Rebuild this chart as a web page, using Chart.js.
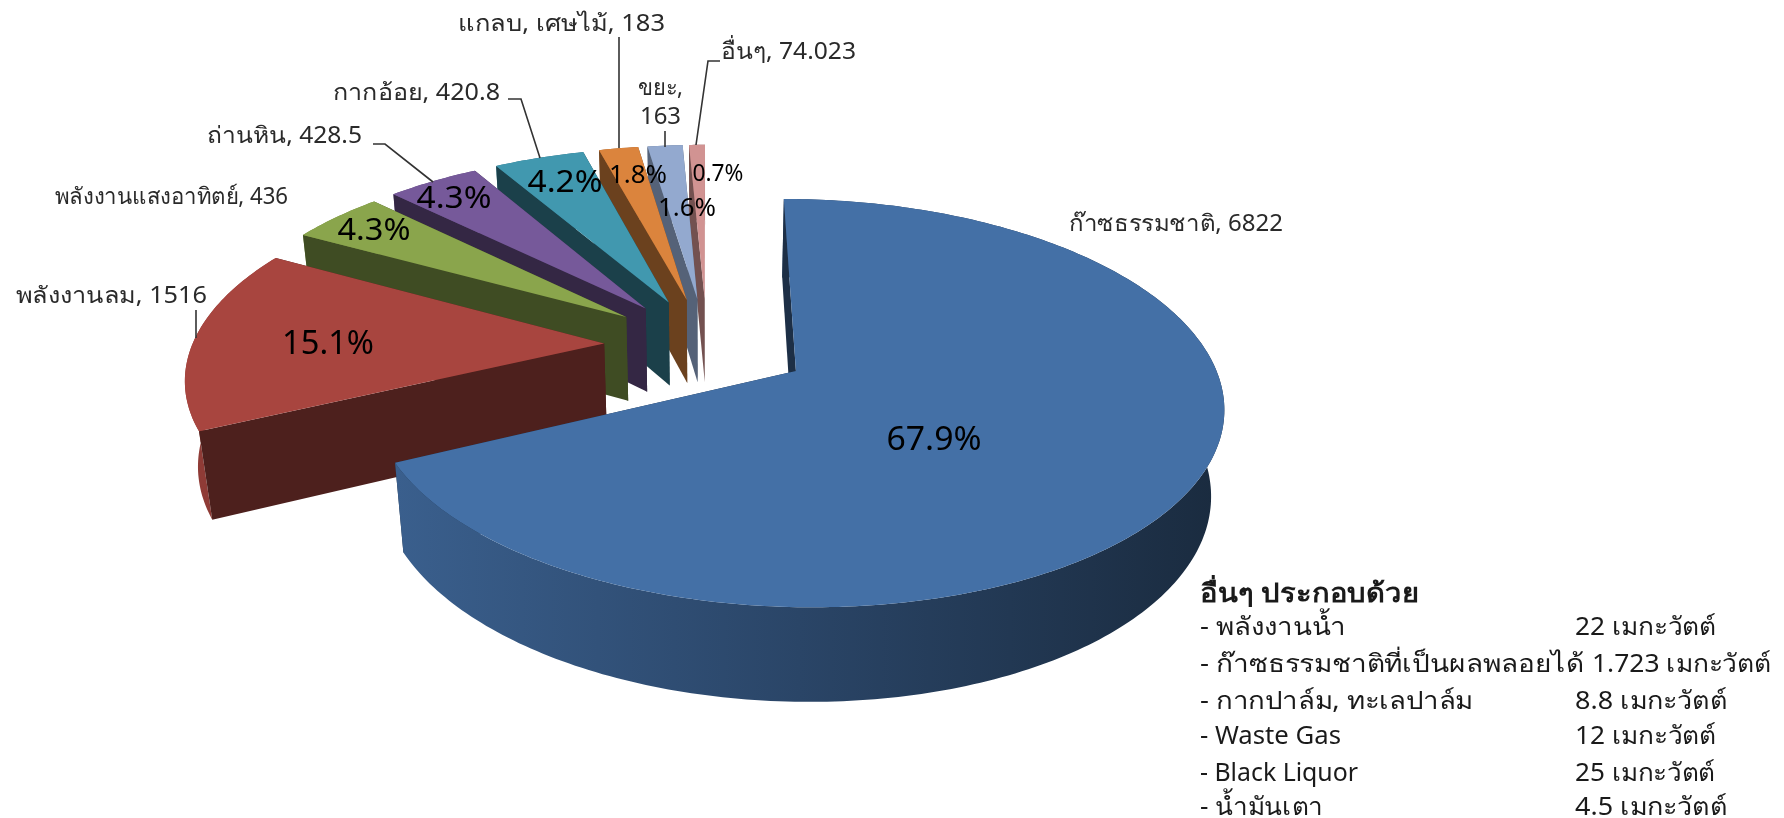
<!DOCTYPE html>
<html>
<head>
<meta charset="utf-8">
<style>html,body{margin:0;padding:0;background:#fff}canvas{display:block;filter:blur(0.45px)}</style>
<script src="https://cdn.jsdelivr.net/npm/chart.js@4"></script>
</head>
<body>
<canvas id="c" width="1784" height="818"></canvas>
<script>
const categories = ['ก๊าซธรรมชาติ','พลังงานลม','พลังงานแสงอาทิตย์','ถ่านหิน','กากอ้อย','แกลบ, เศษไม้','ขยะ','อื่นๆ'];
const values = [6822,1516,436,428.5,420.8,183,163,74.023];
const percentLabels = ['67.9%','15.1%','4.3%','4.3%','4.2%','1.8%','1.6%','0.7%'];
const colors = ['#4470a6','#a8453f','#8aa54c','#76599a','#4198af','#db843d','#93a9cf','#d19392'];
const wallShades = [0.42,0.46,0.46,0.44,0.42,0.49,0.58,0.55];
const otherTitle = 'อื่นๆ ประกอบด้วย';
const otherNames = ['- พลังงานน้ำ','- ก๊าซธรรมชาติที่เป็นผลพลอยได้','- กากปาล์ม, ทะเลปาล์ม','- Waste Gas','- Black Liquor','- น้ำมันเตา'];
const otherValues = ['22 เมกะวัตต์','1.723 เมกะวัตต์','8.8 เมกะวัตต์','12 เมกะวัตต์','25 เมกะวัตต์','4.5 เมกะวัตต์'];

// layout (label anchors, fitted widths and leader lines, in page pixels)
const FONT = '"Noto Sans","DejaVu Sans",sans-serif';
const seriesLabelBoxes = [
  {t:[categories[0]+', '+values[0]],x:1069,y:224,w:[214]},
  {t:[categories[1]+', '+values[1]],x:16,y:296,w:[191]},
  {t:[categories[2]+', '+values[2]],x:55,y:197,w:[233]},
  {t:[categories[3]+', '+values[3]],x:207,y:136,w:[155]},
  {t:[categories[4]+', '+values[4]],x:333,y:93,w:[167]},
  {t:[categories[5]+', '+values[5]],x:458,y:24,w:[207]},
  {t:[categories[6]+',',String(values[6])],x:[638,640],y:88,w:[45,41]},
  {t:[categories[7]+', '+values[7]],x:721,y:52,w:[135]}
];
const leaders = [
  null,
  [[196,310],[196,338]],
  null,
  [[373,144],[385,144],[433,182]],
  [[508,99],[521,99],[540,158]],
  [[619,37],[619,148]],
  [[665,131],[665,147]],
  [[720,61],[708,61],[696,145]]
];
const pctBoxes = [[934,441,32,95],[328,345,32,92],[374,231,31,73],[454,199,31,75],[565,183,31,75],[638,176,26,58],[687,209,26,58],[718,174,23,51]];
const rowYs = [628,665,702,737,774,808];
const nameWidths = [146,384,273,141,158,123];
const valueWidths = [141,179,152,141,140,152];

// perspective model of the tilted pie
const P = {x0:707,y0:345,A:191,B:412,k:-0.154,H:87,m:0.025,e:0.25};
function proj(u,v,z){const D=1+P.k*v+P.m*z;return [P.x0+P.B*u/D,P.y0+(P.A*v+P.H*z)/D];}
function shade(hex,f){const n=parseInt(hex.slice(1),16);return `rgb(${Math.round((n>>16)*f)},${Math.round(((n>>8)&255)*f)},${Math.round((n&255)*f)})`;}
function fitText(ctx,s,x,y,w){
  const m=ctx.measureText(s).width;
  ctx.save();ctx.translate(x,y);ctx.scale(w/m,1);ctx.fillText(s,0,0);ctx.restore();
}

const pie3d = {
  id:'pie3d',
  beforeDatasetsDraw(chart){
    const ctx=chart.ctx, arcs=chart.getDatasetMeta(0).data;
    for(let i=arcs.length-1;i>=0;i--){
      const a0=arcs[i].startAngle+Math.PI/2, a1=arcs[i].endAngle+Math.PI/2, mid=(a0+a1)/2;
      const ex=P.e*Math.sin(mid), ey=-P.e*Math.cos(mid);
      const n=Math.max(6,Math.ceil((a1-a0)*60));
      const rim=z=>{const r=[];for(let j=0;j<=n;j++){const t=a0+(a1-a0)*j/n;r.push(proj(ex+Math.sin(t),ey-Math.cos(t),z));}return r;};
      const top=rim(0), bot=rim(1), at=proj(ex,ey,0), ab=proj(ex,ey,1);
      const fill=(pts,style)=>{ctx.beginPath();pts.forEach((p,j)=>j?ctx.lineTo(p[0],p[1]):ctx.moveTo(p[0],p[1]));ctx.closePath();ctx.fillStyle=style;ctx.fill();};
      const w=shade(colors[i],wallShades[i]);
      fill([at,top[n],bot[n],ab],w);
      const g=ctx.createLinearGradient(396,0,1220,0);
      g.addColorStop(0,shade(colors[i],0.85));g.addColorStop(0.49,shade(colors[i],0.62));g.addColorStop(1,shade(colors[i],0.38));
      fill(top.concat(bot.slice().reverse()),g);
      fill([at,top[0],bot[0],ab],w);
      fill([at].concat(top),colors[i]);
    }
    return false;
  },
  afterDraw(chart){
    const ctx=chart.ctx;
    ctx.save();
    ctx.strokeStyle='#333';ctx.lineWidth=1.6;
    leaders.forEach(l=>{if(!l)return;ctx.beginPath();l.forEach((p,j)=>j?ctx.lineTo(p[0],p[1]):ctx.moveTo(p[0],p[1]));ctx.stroke();});
    ctx.textBaseline='middle';ctx.textAlign='left';
    ctx.fillStyle='#2a2a2a';ctx.font='23px '+FONT;
    seriesLabelBoxes.forEach(b=>{
      b.t.forEach((s,j)=>fitText(ctx,s,Array.isArray(b.x)?b.x[j]:b.x,b.y+j*29,b.w[j]));
    });
    ctx.fillStyle='#000';
    percentLabels.forEach((s,i)=>{const b=pctBoxes[i];ctx.font=b[2]+'px "Noto Sans",sans-serif';fitText(ctx,s,b[0]-b[3]/2,b[1],b[3]);});
    ctx.fillStyle='#1a1a1a';
    ctx.font='bold 26px '+FONT;fitText(ctx,otherTitle,1200,595,219);
    ctx.font='25px '+FONT;
    otherNames.forEach((s,i)=>fitText(ctx,s,1200,rowYs[i],nameWidths[i]));
    otherValues.forEach((s,i)=>fitText(ctx,s,i===1?1592:1575,rowYs[i],valueWidths[i]));
    ctx.restore();
  }
};

new Chart(document.getElementById('c'),{
  type:'pie',
  data:{labels:categories,datasets:[{data:values,backgroundColor:colors,borderWidth:0}]},
  options:{responsive:false,animation:false,rotation:0,plugins:{legend:{display:false},tooltip:{enabled:false}}},
  plugins:[pie3d]
});
</script>
</body>
</html>
